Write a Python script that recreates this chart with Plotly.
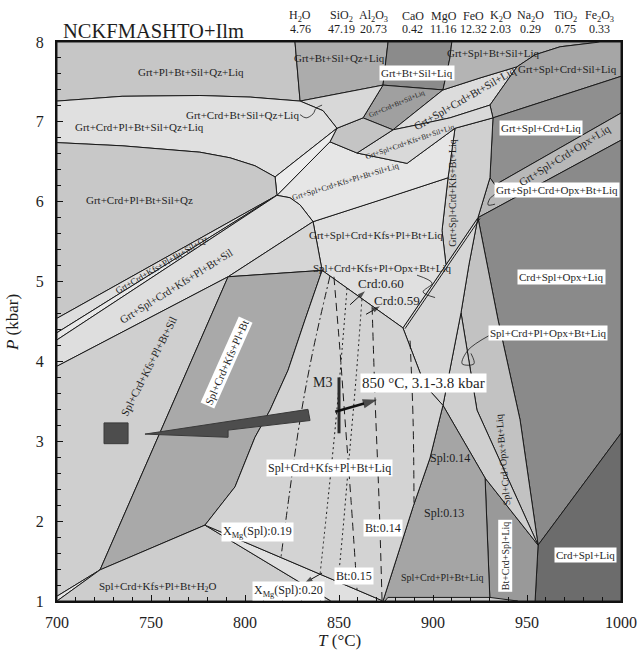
import plotly.graph_objects as go

SERIF = "Liberation Serif, Times New Roman, serif"

# Bulk composition (wt%)
OXIDES = ["H<sub>2</sub>O", "SiO<sub>2</sub>", "Al<sub>2</sub>O<sub>3</sub>", "CaO", "MgO",
          "FeO", "K<sub>2</sub>O", "Na<sub>2</sub>O", "TiO<sub>2</sub>", "Fe<sub>2</sub>O<sub>3</sub>"]
WT_PCT = [4.76, 47.19, 20.73, 0.42, 11.16, 12.32, 2.03, 0.29, 0.75, 0.33]

# Stability fields: (T in deg C, P in kbar) vertices
GRT_PL_BT_SIL_QZ_LIQ = [(700, 8), (826.6, 8), (829.3, 7.26), (802.7, 7.31), (776, 7.33), (734.6, 7.32), (700, 7.26)]
GRT_BT_SIL_QZ_LIQ = [(826.6, 8), (876.1, 8), (873.4, 7.46), (829.3, 7.26)]
GRT_BT_SIL_LIQ = [(876.1, 8), (910, 8), (909, 7.80), (905.3, 7.40), (873.4, 7.46)]
GRT_CRD_BT_SIL_LIQ = [(873.4, 7.46), (905.3, 7.40), (878.7, 6.90), (862.8, 7.05)]
GRT_SPL_CRD_BT_SIL_LIQ = [(878.7, 6.90), (905.3, 7.40), (925, 7.55), (944.7, 7.69), (930.3, 7.21), (909, 7.05), (893.1, 6.97)]
GRT_SPL_BT_SIL_LIQ = [(910, 8), (988.8, 8), (967.6, 7.94), (954.3, 7.84), (944.7, 7.69), (925, 7.55), (905.3, 7.40), (909, 7.80)]
GRT_SPL_CRD_SIL_LIQ = [(944.7, 7.69), (954.3, 7.84), (967.6, 7.94), (988.8, 8), (1000, 8), (1000, 7.57),
                       (931.9, 7.05), (930.3, 7.21)]
GRT_SPL_CRD_LIQ = [(931.9, 7.05), (1000, 7.57), (1000, 7.11), (933, 6.21), (930.3, 6.30)]
GRT_SPL_CRD_OPX_LIQ = [(930.3, 6.30), (933, 6.21), (1000, 7.11), (1000, 6.77), (923.9, 5.80)]
CRD_SPL_OPX_LIQ = [(923.9, 5.80), (1000, 6.77), (1000, 3.10), (955.9, 1.70), (946.3, 3.27), (934.6, 4.52)]
CRD_SPL_LIQ = [(955.9, 1.70), (1000, 3.10), (1000, 1), (954.3, 1)]
BT_CRD_SPL_LIQ = [(927.7, 2.54), (955.9, 1.70), (954.3, 1), (930.3, 1)]
SPL_CRD_OPX_BT_LIQ = [(923.9, 5.80), (934.6, 4.52), (946.3, 3.27), (955.9, 1.70), (923.4, 3.39), (914.9, 4.61), (919.1, 5.21)]
SPL_CRD_PL_OPX_BT_LIQ = [(914.9, 4.61), (923.4, 3.39), (955.9, 1.70), (927.7, 2.54), (905.3, 3.45)]
SPL_CRD_PL_BT_LIQ = [(905.3, 3.45), (927.7, 2.54), (930.3, 1), (873.4, 1), (889.4, 2.18), (898.4, 2.79)]
SPL_CRD_KFS_PL_OPX_BT_LIQ = [(884, 4.42), (923.9, 5.80), (919.1, 5.21), (914.9, 4.61), (905.3, 3.45), (895.7, 3.70)]
GRT_SPL_CRD_KFS_BT_LIQ = [(911.7, 6.92), (931.9, 7.05), (930.3, 6.30), (923.9, 5.80), (906.9, 5.21), (904.8, 5.64), (908, 6.30)]
GRT_SPL_CRD_KFS_PL_BT_LIQ = [(836.2, 5.75), (871.8, 6.02), (908, 6.30), (904.8, 5.64), (906.9, 5.21), (884, 4.42), (841, 5.14)]
GRT_SPL_CRD_KFS_PL_BT_SIL_LIQ = [(817, 6.08), (845.2, 6.75), (859.6, 6.61), (886.2, 6.48), (911.7, 6.92), (908, 6.30),
                                 (871.8, 6.02), (836.2, 5.75), (829.3, 5.96), (823.9, 6.05)]
GRT_SPL_CRD_KFS_BT_SIL_LIQ = [(859.6, 6.61), (878.7, 6.90), (893.1, 6.97), (909, 7.05), (930.3, 7.21), (931.9, 7.05),
                              (911.7, 6.92), (886.2, 6.48)]
GRT_SPL_CRD_BT_SIL_LIQ_B = [(845.2, 6.75), (848.9, 6.92), (862.8, 7.05), (878.7, 6.90), (859.6, 6.61)]
GRT_CRD_BT_SIL_QZ_LIQ = [(829.3, 7.26), (873.4, 7.46), (862.8, 7.05), (848.9, 6.92), (841.5, 7.14)]
GRT_CRD_PL_BT_SIL_QZ_LIQ = [(700, 7.26), (734.6, 7.32), (776, 7.33), (802.7, 7.31), (829.3, 7.26), (841.5, 7.14),
                            (848.9, 6.92), (816, 6.31), (805.3, 6.45), (792, 6.55), (776, 6.62), (734.6, 6.70), (700, 6.74)]
GRT_CRD_KFS_BT_SIL_QZ_LIQ = [(816, 6.31), (848.9, 6.92), (845.2, 6.75), (817, 6.08)]
GRT_CRD_PL_BT_SIL_QZ = [(700, 6.74), (734.6, 6.70), (776, 6.62), (792, 6.55), (805.3, 6.45), (816, 6.31), (817, 6.08), (700, 4.54)]
GRT_CRD_KFS_PL_BT_SIL_QZ = [(700, 4.54), (817, 6.08), (700, 4.36)]
GRT_CRD_KFS_PL_BT_SIL = [(700, 4.36), (817, 6.08), (700, 4.27)]
GRT_SPL_CRD_KFS_PL_BT_SIL = [(700, 4.27), (817, 6.08), (823.9, 6.05), (829.3, 5.96), (836.2, 5.75), (791, 5.06), (700, 3.94)]
SPL_CRD_KFS_PL_BT_SIL_LIQ = [(791, 5.06), (836.2, 5.75), (841, 5.14)]
SPL_CRD_KFS_PL_BT_SIL = [(700, 3.94), (791, 5.06), (722.9, 1.39), (700, 1.06)]
SPL_CRD_KFS_PL_BT_SIL_H2O = [(700, 1.06), (722.9, 1.39), (700, 1.0)]
SPL_CRD_KFS_PL_BT = [(791, 5.06), (841, 5.14), (831.9, 4.52), (822.9, 3.89), (813.3, 3.39), (805.3, 3.05),
                     (794.7, 2.43), (778.7, 1.95), (722.9, 1.39)]
SPL_CRD_KFS_PL_BT_H2O = [(700, 1), (722.9, 1.39), (778.7, 1.95), (845.7, 1)]
SPL_CRD_KFS_PL_BT_LIQ_H2O = [(778.7, 1.95), (873.4, 1), (845.7, 1)]
SPL_CRD_KFS_PL_BT_LIQ = [(841, 5.14), (884, 4.42), (895.7, 3.70), (905.3, 3.45), (898.4, 2.79), (889.4, 2.18),
                         (873.4, 1), (778.7, 1.95), (794.7, 2.43), (805.3, 3.05), (813.3, 3.39), (822.9, 3.89), (831.9, 4.52)]
SPL_CRD_PL_BT_LIQ_LOW = [(874.5, 1.0), (876, 1.045), (930.3, 1.045), (945, 1.0)]

# Isopleths in the Spl+Crd+Kfs+Pl+Bt+Liq field
ISO_XMG_SPL_019 = [(845.2, 5.07), (836.2, 4.14), (829.3, 3.27), (823.9, 2.39), (819.1, 1.54)]
ISO_BT_015 = [(847.3, 5.06), (850.5, 4.14), (853.2, 3.27), (856.4, 2.26), (859.6, 1.14)]
ISO_CRD_060 = [(854.3, 4.92), (851.6, 4.14), (848.4, 3.27), (844.1, 2.26), (839.9, 1.33)]
ISO_CRD_059 = [(862.2, 4.78), (859.0, 3.77), (855.3, 2.77), (852.1, 1.89), (849.5, 1.24)]
ISO_BT_014 = [(867.6, 4.69), (869.2, 3.52), (871.3, 2.26), (872.9, 1.01)]
ISO_SPL_014 = [(887.8, 4.26), (889.4, 3.27), (889.9, 2.23)]

# Second trace of the double reaction line
DOUBLE_LINE = [(885.1, 4.41), (925.0, 5.79)]

# M3 peak condition
M3_T = 850
M3_P = [3.1, 3.8]

# Prograde path marker (square and broad arrow)
MARKER_SQUARE = [(725.0, 3.23), (737.8, 3.23), (737.8, 2.97), (725.0, 2.97)]
PATH_ARROW = [(746.8, 3.09), (833.5, 3.40), (834.6, 3.26), (791, 3.14), (791, 3.05)]

# Leader lines for small fields
LEADERS = [
    [(829.3, 7.09), (832.5, 7.05), (836.2, 7.10), (837.8, 7.17), (841, 7.21)],
    [(934, 6.11), (930.3, 6.04), (929.3, 5.96), (933, 5.97)],
    [(930.3, 4.33), (918.6, 4.14), (915.5, 3.97), (921.8, 3.97), (920.2, 4.10)],
    [(891.5, 5.08), (899.5, 4.98), (894.7, 4.87), (901.1, 4.80)],
]

FIELDS = [
    (GRT_PL_BT_SIL_QZ_LIQ, "#c6c6c6"),
    (GRT_BT_SIL_QZ_LIQ, "#acacac"),
    (GRT_BT_SIL_LIQ, "#8b8b8b"),
    (GRT_CRD_BT_SIL_LIQ, "#a0a0a0"),
    (GRT_SPL_CRD_BT_SIL_LIQ, "#dcdcdc"),
    (GRT_SPL_BT_SIL_LIQ, "#b4b4b4"),
    (GRT_SPL_CRD_SIL_LIQ, "#a6a6a6"),
    (GRT_SPL_CRD_LIQ, "#8f8f8f"),
    (GRT_SPL_CRD_OPX_LIQ, "#b8b8b8"),
    (CRD_SPL_OPX_LIQ, "#8a8a8a"),
    (CRD_SPL_LIQ, "#6c6c6c"),
    (BT_CRD_SPL_LIQ, "#999999"),
    (SPL_CRD_OPX_BT_LIQ, "#c2c2c2"),
    (SPL_CRD_PL_OPX_BT_LIQ, "#cfcfcf"),
    (SPL_CRD_PL_BT_LIQ, "#a5a5a5"),
    (SPL_CRD_PL_BT_LIQ_LOW, "#cccccc"),
    (SPL_CRD_KFS_PL_OPX_BT_LIQ, "#d6d6d6"),
    (GRT_SPL_CRD_KFS_BT_LIQ, "#d0d0d0"),
    (GRT_SPL_CRD_KFS_PL_BT_LIQ, "#e0e0e0"),
    (GRT_SPL_CRD_KFS_PL_BT_SIL_LIQ, "#e6e6e6"),
    (GRT_SPL_CRD_KFS_BT_SIL_LIQ, "#d9d9d9"),
    (GRT_SPL_CRD_BT_SIL_LIQ_B, "#c4c4c4"),
    (GRT_CRD_BT_SIL_QZ_LIQ, "#d8d8d8"),
    (GRT_CRD_PL_BT_SIL_QZ_LIQ, "#e0e0e0"),
    (GRT_CRD_KFS_BT_SIL_QZ_LIQ, "#ececec"),
    (GRT_CRD_PL_BT_SIL_QZ, "#c8c8c8"),
    (GRT_CRD_KFS_PL_BT_SIL_QZ, "#dedede"),
    (GRT_CRD_KFS_PL_BT_SIL, "#e8e8e8"),
    (GRT_SPL_CRD_KFS_PL_BT_SIL, "#dedede"),
    (SPL_CRD_KFS_PL_BT_SIL_LIQ, "#d6d6d6"),
    (SPL_CRD_KFS_PL_BT_SIL, "#cfcfcf"),
    (SPL_CRD_KFS_PL_BT_SIL_H2O, "#e6e6e6"),
    (SPL_CRD_KFS_PL_BT, "#a9a9a9"),
    (SPL_CRD_KFS_PL_BT_H2O, "#cdcdcd"),
    (SPL_CRD_KFS_PL_BT_LIQ_H2O, "#e0e0e0"),
    (SPL_CRD_KFS_PL_BT_LIQ, "#d3d3d3"),
]

ISOPLETHS = [
    (ISO_XMG_SPL_019, "8px,3px,2px,3px"),
    (ISO_BT_015, "8px,5px"),
    (ISO_CRD_060, "2px,3px"),
    (ISO_CRD_059, "2px,3px"),
    (ISO_BT_014, "8px,5px"),
    (ISO_SPL_014, "8px,5px"),
]

# Field and isopleth labels: text, T, P, font size, angle, boxed
LABELS = [
    ("Grt+Pl+Bt+Sil+Qz+Liq", 771.3, 7.62, 11, 0, False),
    ("Grt+Crd+Pl+Bt+Sil+Qz+Liq", 744.1, 6.94, 11, 0, False),
    ("Grt+Crd+Bt+Sil+Qz+Liq", 798.9, 7.09, 11, 0, False),
    ("Grt+Crd+Pl+Bt+Sil+Qz", 744.1, 6.02, 11, 0, False),
    ("Grt+Bt+Sil+Qz+Liq", 850.0, 7.80, 11, 0, False),
    ("Grt+Bt+Sil+Liq", 891.5, 7.61, 11, 0, True),
    ("Grt+Crd+Bt+Sil+Liq", 880.9, 7.22, 7, -23, False),
    ("Grt+Spl+Crd+Bt+Sil+Liq", 917.0, 7.30, 11, -30, False),
    ("Grt+Spl+Crd+Kfs+Bt+Sil+Liq", 887.8, 6.76, 7.5, -19, False),
    ("Grt+Spl+Crd+Kfs+Pl+Bt+Sil+Liq", 853.7, 6.25, 8, -17, False),
    ("Grt+Crd+Kfs+Pl+Bt+Sil+Qz", 755.5, 5.21, 9, -30.5, False),
    ("Grt+Spl+Crd+Kfs+Pl+Bt+Sil", 763.3, 4.94, 11, -32, False),
    ("Spl+Crd+Kfs+Pl+Bt+Sil", 748.9, 3.94, 11, -63, False),
    ("Spl+Crd+Kfs+Pl+Bt", 790.4, 3.99, 11, -66, True),
    ("Spl+Crd+Kfs+Pl+Bt+H<sub>2</sub>O", 753.2, 1.18, 11, 0, False),
    ("Spl+Crd+Kfs+Pl+Bt+Liq", 845.2, 2.67, 12, 0, True),
    ("X<sub>Mg</sub>(Spl):0.19", 806.9, 1.86, 12, 0, True),
    ("X<sub>Mg</sub>(Spl):0.20", 822.9, 1.13, 12, 0, True),
    ("Bt:0.15", 858.0, 1.31, 12, 0, True),
    ("Bt:0.14", 873.4, 1.91, 12, 0, True),
    ("Spl:0.14", 909.0, 2.79, 12, 0, False),
    ("Spl:0.13", 905.9, 2.10, 12, 0, False),
    ("Spl+Crd+Pl+Bt+Liq", 904.8, 1.30, 10, 0, False),
    ("Bt+Crd+Spl+Liq", 938.3, 1.56, 10, -90, True),
    ("Spl+Crd+Opx+Bt+Liq", 937.2, 2.77, 10, -95, False),
    ("Crd+Spl+Liq", 980.9, 1.58, 11, 0, True),
    ("Crd+Spl+Opx+Liq", 968.6, 5.06, 11, 0, True),
    ("Spl+Crd+Pl+Opx+Bt+Liq", 961.2, 4.36, 11, 0, True),
    ("Grt+Spl+Crd+Opx+Bt+Liq", 966.0, 6.15, 11, 0, True),
    ("Grt+Spl+Crd+Opx+Liq", 970.2, 6.58, 11, -32, False),
    ("Grt+Spl+Crd+Liq", 957.4, 6.92, 11, 0, True),
    ("Grt+Spl+Crd+Sil+Liq", 971.3, 7.66, 11, 0, False),
    ("Grt+Spl+Bt+Sil+Liq", 932.4, 7.86, 11, 0, False),
    ("Grt+Spl+Crd+Kfs+Bt+Liq", 910.6, 6.11, 10, -90, False),
    ("Grt+Spl+Crd+Kfs+Pl+Bt+Liq", 869.7, 5.58, 11, 0, False),
    ("Spl+Crd+Kfs+Pl+Opx+Bt+Liq", 873.4, 5.17, 11, 0, False),
    ("Crd:0.60", 872.3, 4.98, 13, 0, False),
    ("Crd:0.59", 880.9, 4.76, 13, 0, False),
    ("M3", 841.0, 3.74, 14, 0, False),
    ("850 °C, 3.1-3.8 kbar", 895.2, 3.73, 15, 0, True),
]

# Arrows: (tail T, tail P, head T, head P, line width, head size)
ARROWS = [
    (848.0, 3.37, 870.2, 3.52, 2.5, 15),
    (855.9, 4.71, 863.8, 4.88, 1, 8),
    (864.4, 4.59, 871.8, 4.69, 1, 8),
    (841.0, 1.35, 831.9, 1.23, 1, 8),
]

# Oxide header column positions (paper fraction)
OXIDE_X = [0.431, 0.504, 0.562, 0.631, 0.686, 0.739, 0.787, 0.840, 0.902, 0.961]


def closed(verts):
    xs = [v[0] for v in verts] + [verts[0][0]]
    ys = [v[1] for v in verts] + [verts[0][1]]
    return xs, ys


fig = go.Figure()

for verts, color in FIELDS:
    xs, ys = closed(verts)
    fig.add_trace(go.Scatter(x=xs, y=ys, mode="lines", fill="toself", fillcolor=color,
                             line=dict(color="#1a1a1a", width=1), hoverinfo="skip", showlegend=False))

fig.add_trace(go.Scatter(x=[p[0] for p in DOUBLE_LINE], y=[p[1] for p in DOUBLE_LINE], mode="lines",
                         line=dict(color="#1a1a1a", width=1), hoverinfo="skip", showlegend=False))

for verts, dash in ISOPLETHS:
    fig.add_trace(go.Scatter(x=[p[0] for p in verts], y=[p[1] for p in verts], mode="lines",
                             line=dict(color="#1a1a1a", width=1, dash=dash, shape="spline"),
                             hoverinfo="skip", showlegend=False))

for verts in LEADERS:
    fig.add_trace(go.Scatter(x=[p[0] for p in verts], y=[p[1] for p in verts], mode="lines",
                             line=dict(color="#1a1a1a", width=0.8, shape="spline"),
                             hoverinfo="skip", showlegend=False))

for verts in (MARKER_SQUARE, PATH_ARROW):
    xs, ys = closed(verts)
    fig.add_trace(go.Scatter(x=xs, y=ys, mode="lines", fill="toself", fillcolor="#4d4d4d",
                             line=dict(color="#3a3a3a", width=1), hoverinfo="skip", showlegend=False))

fig.add_trace(go.Scatter(x=[M3_T, M3_T], y=M3_P, mode="lines", line=dict(color="#2a2a2a", width=3),
                         hoverinfo="skip", showlegend=False))

for t0, p0, t1, p1, w, hs in ARROWS:
    fig.add_trace(go.Scatter(
        x=[t0, t1], y=[p0, p1], mode="lines+markers",
        line=dict(color="#111", width=w),
        marker=dict(symbol=["circle", "arrow"], size=[0, hs], angleref="previous", color="#111",
                    line=dict(width=0)),
        hoverinfo="skip", showlegend=False))

annotations = []
for text, t, p, size, angle, boxed in LABELS:
    annotations.append(dict(
        x=t, y=p, xref="x", yref="y", text=text, showarrow=False, textangle=angle,
        xanchor="center", yanchor="middle",
        font=dict(family=SERIF, size=size, color="#1e1e1e"),
        bgcolor="white" if boxed else None, borderpad=1,
    ))

annotations.append(dict(x=0.007, y=1.0197, xref="paper", yref="paper", xanchor="left", yanchor="middle",
                        text="NCKFMASHTO+Ilm", showarrow=False,
                        font=dict(family=SERIF, size=20.5, color="#1e1e1e")))
for ox, val, px in zip(OXIDES, WT_PCT, OXIDE_X):
    annotations.append(dict(x=px, y=1.0474, xref="paper", yref="paper", text=ox, showarrow=False,
                            xanchor="center", yanchor="middle",
                            font=dict(family=SERIF, size=12, color="#1e1e1e")))
    annotations.append(dict(x=px, y=1.0224, xref="paper", yref="paper", text=f"{val:.2f}", showarrow=False,
                            xanchor="center", yanchor="middle",
                            font=dict(family=SERIF, size=12, color="#1e1e1e")))

annotations.append(dict(x=0.5, y=-0.07, xref="paper", yref="paper", text="<i>T</i> (°C)", showarrow=False,
                        xanchor="center", yanchor="middle",
                        font=dict(family=SERIF, size=17, color="#1e1e1e")))
annotations.append(dict(x=-0.0798, y=0.499, xref="paper", yref="paper", text="<i>P</i> (kbar)", showarrow=False,
                        textangle=-90, xanchor="center", yanchor="middle",
                        font=dict(family=SERIF, size=17, color="#1e1e1e")))

axis_common = dict(showgrid=False, zeroline=False, showline=True, linecolor="#111", linewidth=2, mirror=True,
                   ticks="inside", ticklen=6, tickwidth=1, tickcolor="#111", automargin=False,
                   tickfont=dict(family=SERIF, size=16, color="#1e1e1e"))

fig.update_layout(
    template="none",
    width=641, height=661, autosize=False,
    margin=dict(l=57, r=20, t=42, b=60, autoexpand=False),
    paper_bgcolor="white", plot_bgcolor="white",
    xaxis=dict(range=[700, 1000], tickvals=[700, 750, 800, 850, 900, 950, 1000], ticklabelstandoff=6,
               minor=dict(dtick=10, ticks="inside", ticklen=4, tickcolor="#111"), **axis_common),
    yaxis=dict(range=[1, 8], tickvals=[1, 2, 3, 4, 5, 6, 7, 8], ticklabelstandoff=8,
               minor=dict(dtick=0.2, ticks="inside", ticklen=4, tickcolor="#111"), **axis_common),
    annotations=annotations,
)

fig.write_html("out.html", config={"responsive": False})
